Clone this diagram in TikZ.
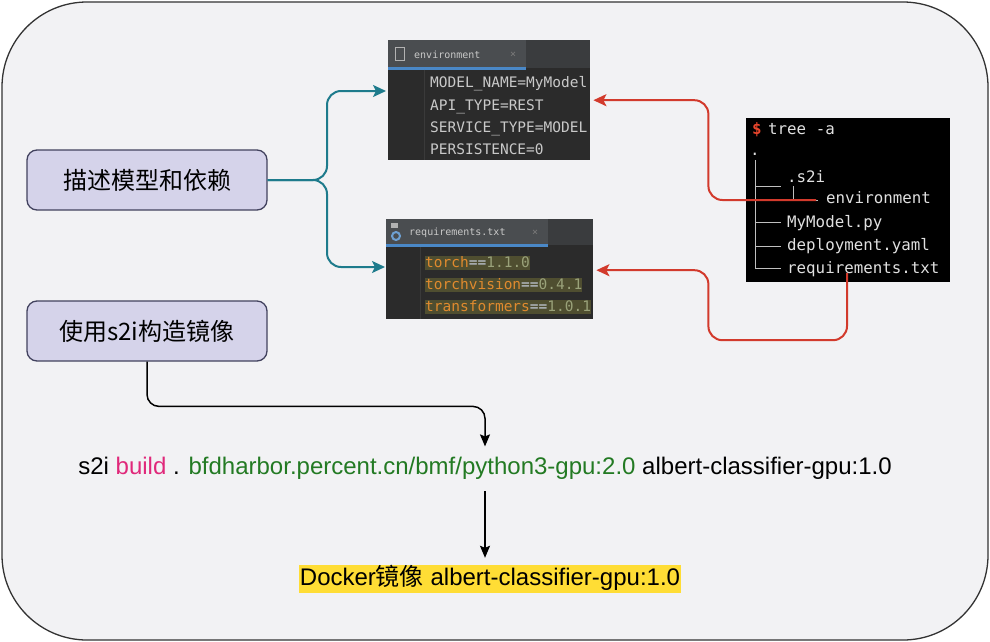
\documentclass[tikz,border=0pt]{standalone}
\usepackage{fontspec}
\setmainfont{Liberation Sans}
\newfontfamily\cjk{Noto Sans CJK SC}
\newfontfamily\codefont{DejaVu Sans Mono}
\usetikzlibrary{arrows.meta,calc}
\definecolor{bgc}{HTML}{F2F2F4}
\definecolor{framec}{HTML}{333333}
\definecolor{boxfill}{HTML}{D5D3EA}
\definecolor{boxdraw}{HTML}{42425E}
\definecolor{tealc}{HTML}{1E7B8C}
\definecolor{redc}{HTML}{D23A2C}
\definecolor{ide}{HTML}{2B2B2B}
\definecolor{idetab}{HTML}{3A3C3E}
\definecolor{idetabact}{HTML}{4A4D50}
\definecolor{idegutter}{HTML}{3A3A3A}
\definecolor{ideblue}{HTML}{4A88C7}
\definecolor{idetext}{HTML}{C9C9C9}
\definecolor{reqorange}{HTML}{E08A2E}
\definecolor{reqbg}{HTML}{4F4E30}
\definecolor{reqver}{HTML}{9AA27A}
\definecolor{reqeq}{HTML}{C8D0E0}
\definecolor{buildpink}{HTML}{E0287A}
\definecolor{urlgreen}{HTML}{237A23}
\definecolor{hl}{HTML}{FFDD35}
\definecolor{treered}{HTML}{E8452C}
\tikzset{
  mainbox/.style={draw=boxdraw, line width=1.3pt, fill=boxfill, rounded corners=10pt,
    minimum width=240pt, minimum height=60pt, inner sep=0pt,
    font=\cjk\fontsize{24}{28}\selectfont},
  panel/.style={fill=ide, draw=none, inner sep=0pt, anchor=north west},
  codeline/.style={anchor=west, inner sep=0pt, text height=11pt, text depth=3pt,
    font=\codefont\fontsize{14.5}{16}\selectfont, text=idetext},
  tabtext/.style={anchor=west, inner sep=0pt, font=\codefont\fontsize{10}{12}\selectfont, text=idetext},
  treetext/.style={anchor=west, inner sep=0pt, text height=11pt, text depth=3pt,
    font=\codefont\fontsize{15.8}{17}\selectfont, text=white!88!black},
  treeline/.style={draw=white!75!black, line width=1pt},
  tealarrow/.style={draw=tealc, line width=2pt, rounded corners=14pt,
    -{Stealth[length=13pt,width=12pt,inset=3pt]}},
  redarrow/.style={draw=redc, line width=2pt, rounded corners=14pt,
    -{Stealth[length=13pt,width=12pt,inset=3pt]}},
  blackarrow/.style={draw=black, line width=1.5pt, rounded corners=12pt,
    -{Stealth[length=12pt,width=10pt,inset=2pt]}},
  bigtext/.style={inner sep=0pt, font=\fontsize{24}{28}\selectfont}
}
\begin{document}
\begin{tikzpicture}[x=1pt,y=-1pt]
\useasboundingbox (0,0) rectangle (990,642);
\fill[white] (0,0) rectangle (990,642);
\draw[draw=framec, fill=bgc, line width=1.3pt, rounded corners=85pt] (2,2) rectangle (988,640);

% left boxes
\node[mainbox] (box1) at (147,180) {描述模型和依赖};
\node[mainbox] (box2) at (147,331) {使用s2i构造镜像};

% environment panel
\node[panel, minimum width=202pt, minimum height=120pt] (env) at (388,40) {};
\fill[idetab] (env.north west) rectangle ($(env.north east)+(0,28)$);
\fill[idetabact] (env.north west) rectangle ($(env.north west)+(138,28)$);
\fill[ideblue] ($(env.north west)+(0,27)$) rectangle ($(env.north west)+(138,30)$);
\draw[idegutter, line width=1pt] ($(env.north west)+(36,30)$) -- ($(env.south west)+(36,0)$);
\draw[white!70!black, line width=1pt] ($(env.north west)+(7,8)$) rectangle ($(env.north west)+(16,21)$);
\node[tabtext] (envtab) at ($(env.north west)+(26,15)$) {environment};
\node[tabtext, text=idetext!50!ide] (envx) at ($(env.north west)+(122,15)$) {×};
\node[codeline] (e1) at (430,84) {MODEL\_NAME=MyModel};
\node[codeline] (e2) at (430,106) {API\_TYPE=REST};
\node[codeline] (e3) at (430,128) {SERVICE\_TYPE=MODEL};
\node[codeline] (e4) at (430,150) {PERSISTENCE=0};

% requirements panel
\node[panel, minimum width=207pt, minimum height=100pt] (req) at (386,219) {};
\fill[idetab] (req.north west) rectangle ($(req.north east)+(0,26)$);
\fill[idetabact] (req.north west) rectangle ($(req.north west)+(162,26)$);
\fill[ideblue] ($(req.north west)+(0,25)$) rectangle ($(req.north west)+(162,28)$);
\draw[idegutter, line width=1pt] ($(req.north west)+(34,28)$) -- ($(req.south west)+(34,0)$);
\draw[ideblue!80!white, line width=2pt] ($(req.north west)+(10,17)$) circle (4pt);
\fill[white!70!black] ($(req.north west)+(5,4)$) rectangle ($(req.north west)+(12,9)$);
\node[tabtext] (reqtab) at ($(req.north west)+(23,14)$) {requirements.txt};
\node[tabtext, text=idetext!50!ide] (reqx) at ($(req.north west)+(146,14)$) {×};
\begin{scope}
\clip (req.north west) rectangle (req.south east);
\node[codeline, fill=reqbg] (r1) at (425,263) {\textcolor{reqorange}{torch}\textcolor{reqeq}{==}\textcolor{reqver}{1.1.0}};
\node[codeline, fill=reqbg] (r2) at (425,285) {\textcolor{reqorange}{torchvision}\textcolor{reqeq}{==}\textcolor{reqver}{0.4.1}};
\node[codeline, fill=reqbg] (r3) at (425,307) {\textcolor{reqorange}{transformers}\textcolor{reqeq}{==}\textcolor{reqver}{1.0.1}};
\end{scope}

% tree panel
\node[panel, fill=black, minimum width=204pt, minimum height=164pt] (tree) at (746,118) {};
\node[treetext, text=treered, font=\codefont\bfseries\fontsize{15.8}{17}\selectfont] (dollar) at (752,130) {\$};
\node[treetext] (cmdtree) at (768,130) {tree -a};
\node[treetext] (dot) at (750,151) {.};
\node[treetext] (ts2i) at (787,178) {.s2i};
\node[treetext] (tenv) at (826,199) {environment};
\node[treetext] (tmodel) at (787,223) {MyModel.py};
\node[treetext] (tdep) at (787,246) {deployment.yaml};
\node[treetext] (treq) at (787,269) {requirements.txt};
\draw[treeline] ($(tree.north west)+(9,42)$) -- ($(tree.north west)+(9,150)$) -- ($(tree.north west)+(35,150)$);
\draw[treeline] ($(tree.north west)+(9,68)$) -- ($(tree.north west)+(35,68)$);
\draw[treeline] ($(tree.north west)+(9,104)$) -- ($(tree.north west)+(35,104)$);
\draw[treeline] ($(tree.north west)+(9,128)$) -- ($(tree.north west)+(35,128)$);
\draw[treeline] ($(tree.north west)+(47,68)$) -- ($(tree.north west)+(47,82)$) -- ($(tree.north west)+(72,82)$);

% teal connectors
\draw[tealarrow] (box1.east) -| ($(env.north west)+(-61,51)$) -- ($(env.north west)+(-2,51)$);
\draw[tealarrow] (box1.east) -| ($(req.north west)+(-59,48)$) -- ($(req.north west)+(-1,48)$);

% red connectors
\draw[redarrow] ($(tree.north west)+(70,82)$) -| ($(env.east)+(118,0)$) -- ($(env.east)+(3,0)$);
\draw[redarrow] ($(tree.north west)+(101,155)$) |- ($(req.east)+(115,71)$) |- ($(req.east)+(3,1)$);

% command and result
\node[bigtext, anchor=base] (cmd) at (485,474) {s2i \textcolor{buildpink}{build} . \textcolor{urlgreen}{bfdharbor.percent.cn/bmf/python3-gpu:2.0} albert-classifier-gpu:1.0};
\node[bigtext, anchor=base, fill=hl, inner xsep=1pt, text height=20pt, text depth=8pt] (docker) at (490,585) {Docker{\cjk\fontsize{24}{28}\selectfont 镜像} albert-classifier-gpu:1.0};

\draw[blackarrow] (box2.south) |- ($(cmd.north)+(0,-50)$) -- ($(cmd.north)+(0,-10)$);
\draw[blackarrow] ($(cmd.south)+(0,12)$) -- ($(cmd.south |- docker.north)+(0,-7)$);
\end{tikzpicture}
\end{document}
